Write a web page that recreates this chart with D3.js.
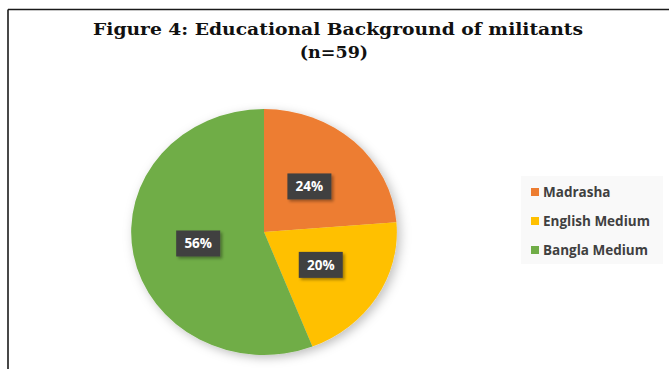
<html>
  <head>
    <script src="https://cdn.jsdelivr.net/npm/d3@7"></script>
    <style>
      body { margin: 0; background: #fff; }
    </style>
  </head>

  <body>
    <div id="chart"></div>
  </body>

  <script>
    // data (counts out of n=59)
    let categories = ['Madrasha', 'English Medium', 'Bangla Medium']
    let counts = [14, 12, 33]
    let pctLabels = ['24%', '20%', '56%']
    let colors = ['#ED7D31', '#FFC000', '#70AD47']

    let width = 669, height = 369

    let svg = d3.select('#chart').append('svg')
      .attr('width', width)
      .attr('height', height)

    // filters for pie and label shadows
    let defs = svg.append('defs')
    let pieShadow = defs.append('filter').attr('id', 'pieShadow')
      .attr('x', '-20%').attr('y', '-20%').attr('width', '140%').attr('height', '140%')
    pieShadow.append('feDropShadow')
      .attr('dx', 3).attr('dy', 3).attr('stdDeviation', 5)
      .attr('flood-color', '#000').attr('flood-opacity', 0.25)
    let boxShadow = defs.append('filter').attr('id', 'boxShadow')
      .attr('x', '-30%').attr('y', '-30%').attr('width', '160%').attr('height', '160%')
    boxShadow.append('feDropShadow')
      .attr('dx', 2).attr('dy', 2).attr('stdDeviation', 1.5)
      .attr('flood-color', '#000').attr('flood-opacity', 0.35)

    // frame lines (top and left)
    svg.append('line')
      .attr('x1', 8).attr('y1', 9.5).attr('x2', width).attr('y2', 9.5)
      .attr('stroke', '#1a1a1a').attr('stroke-width', 1.6)
    svg.append('line')
      .attr('x1', 8).attr('y1', 9.5).attr('x2', 8).attr('y2', height)
      .attr('stroke', '#1a1a1a').attr('stroke-width', 1.6)

    // title
    let title = svg.append('text')
      .attr('text-anchor', 'middle')
      .attr('font-family', 'DejaVu Serif')
      .attr('font-weight', 'bold')
      .attr('font-size', 17.5)
      .attr('fill', '#111')
    title.append('tspan').attr('x', 338).attr('y', 35)
      .attr('textLength', 490).attr('lengthAdjust', 'spacingAndGlyphs')
      .text('Figure 4: Educational Background of militants')
    title.append('tspan').attr('x', 334).attr('y', 58)
      .text('(n=59)')

    // pie
    let cx = 264, cy = 232, r = 123, sx = 1.08
    let pie = d3.pie().sort(null).value((d) => d)
    let arcs = pie(counts)
    let arc = d3.arc().innerRadius(0).outerRadius(r)
    let labelArc = d3.arc().innerRadius(62).outerRadius(62)

    let g = svg.append('g')
      .attr('transform', 'translate(' + cx + ',' + cy + ')')

    g.append('g')
      .attr('filter', 'url(#pieShadow)')
      .attr('transform', 'scale(' + sx + ',1)')
      .selectAll('path')
      .data(arcs)
      .enter().append('path')
        .attr('d', arc)
        .attr('fill', (d, i) => colors[i])

    // data labels
    let labels = g.selectAll('.lbl')
      .data(arcs)
      .enter().append('g')
      .attr('transform', (d) => {
        let c = labelArc.centroid(d)
        return 'translate(' + (c[0] * sx) + ',' + c[1] + ')'
      })

    labels.append('rect')
      .attr('x', -22).attr('y', -13)
      .attr('width', 44).attr('height', 26)
      .attr('fill', '#404040')
      .attr('filter', 'url(#boxShadow)')

    labels.append('text')
      .attr('text-anchor', 'middle')
      .attr('dy', '0.36em')
      .attr('font-family', 'Open Sans')
      .attr('font-weight', 'bold')
      .attr('font-size', 13.5)
      .attr('fill', '#fff')
      .text((d, i) => pctLabels[i])

    // legend
    svg.append('rect')
      .attr('x', 521).attr('y', 176)
      .attr('width', 142).attr('height', 88)
      .attr('fill', '#f9f9f9')

    let legend = svg.append('g')
      .selectAll('g')
      .data(categories)
      .enter().append('g')
      .attr('transform', (d, i) => 'translate(531,' + (192 + i * 29) + ')')

    legend.append('rect')
      .attr('x', 0).attr('y', -4)
      .attr('width', 8).attr('height', 8)
      .attr('fill', (d, i) => colors[i])

    legend.append('text')
      .attr('x', 12)
      .attr('dy', '0.36em')
      .attr('font-family', 'Open Sans')
      .attr('font-weight', 'bold')
      .attr('font-size', 13.5)
      .attr('fill', '#404040')
      .text((d) => d)
  </script>
</html>
